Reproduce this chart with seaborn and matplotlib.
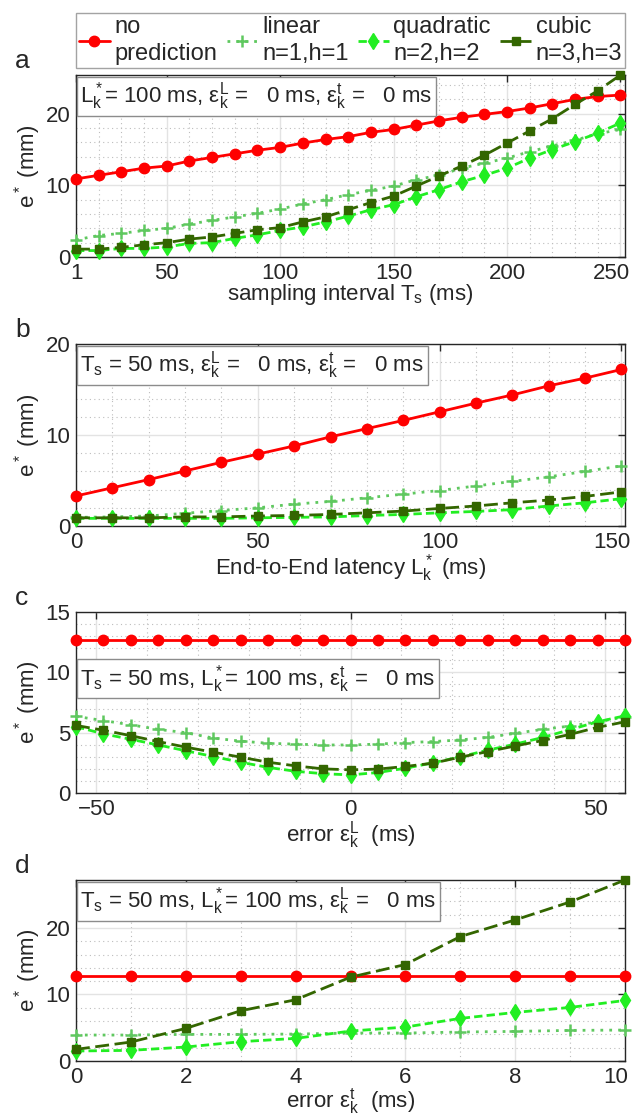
import numpy as np
import pandas as pd
import matplotlib
matplotlib.use('Agg')
import matplotlib.pyplot as plt
import matplotlib.transforms as mtrans
from matplotlib.ticker import MultipleLocator, FixedLocator
import seaborn as sns

# ---- data ----
# a: sampling interval
ts = [10, 20, 30, 40, 50, 60, 70, 80, 90, 100, 110, 120, 130,
      140, 150, 160, 170, 180, 190, 200, 210, 220, 230, 240, 250]
a_nopred = [10.9, 11.4, 11.9, 12.4, 12.7, 13.4, 13.9, 14.4, 14.9, 15.3, 15.9, 16.4, 16.8,
            17.4, 17.8, 18.4, 19.0, 19.5, 19.9, 20.3, 20.8, 21.4, 22.0, 22.4, 22.6]
a_linear = [2.4, 3.0, 3.3, 3.7, 4.0, 4.6, 5.1, 5.6, 6.1, 6.7, 7.4, 8.0, 8.7,
            9.3, 9.9, 10.8, 11.4, 12.4, 13.1, 13.8, 14.7, 15.5, 16.3, 17.2, 17.8]
a_quad = [0.9, 0.9, 1.2, 1.2, 1.4, 1.9, 2.0, 2.6, 3.1, 3.7, 4.2, 4.9, 5.7,
          6.6, 7.3, 8.4, 9.4, 10.5, 11.4, 12.4, 13.8, 15.0, 16.1, 17.3, 18.7]
a_cubic = [1.1, 1.1, 1.35, 1.7, 2.0, 2.5, 2.8, 3.3, 3.8, 4.1, 4.9, 5.6, 6.6,
           7.6, 8.5, 9.9, 11.3, 12.7, 14.2, 15.9, 17.6, 19.3, 21.3, 23.2, 25.4]

# b: end-to-end latency
lat = [0, 10, 20, 30, 40, 50, 60, 70, 80, 90, 100, 110, 120, 130, 140, 150]
b_nopred = [3.3, 4.2, 5.1, 6.05, 7.0, 7.9, 8.8, 9.8, 10.7, 11.6, 12.55, 13.5, 14.4, 15.4, 16.25, 17.2]
b_linear = [0.95, 1.0, 1.1, 1.4, 1.7, 2.0, 2.4, 2.7, 3.1, 3.5, 3.9, 4.4, 4.9, 5.4, 6.0, 6.6]
b_quad = [0.84, 0.84, 0.84, 0.84, 0.84, 0.9, 0.95, 1.0, 1.15, 1.27, 1.45, 1.6, 1.8, 2.2, 2.55, 3.0]
b_cubic = [0.9, 0.9, 0.9, 1.0, 1.0, 1.1, 1.16, 1.27, 1.45, 1.64, 1.93, 2.2, 2.55, 2.85, 3.25, 3.75]

# c: latency error
errL = [-54, -48.6, -43.2, -37.8, -32.4, -27, -21.6, -16.2, -10.8, -5.4, 0,
        5.4, 10.8, 16.2, 21.6, 27, 32.4, 37.8, 43.2, 48.6, 54]
c_nopred = [12.7] * 21
c_linear = [6.35, 6.0, 5.65, 5.27, 5.0, 4.55, 4.3, 4.12, 4.05, 3.98, 3.98,
            4.05, 4.18, 4.26, 4.4, 4.6, 4.95, 5.27, 5.55, 5.9, 6.3]
c_quad = [5.5, 4.9, 4.45, 3.98, 3.5, 3.02, 2.55, 2.12, 1.8, 1.6, 1.5,
          1.7, 2.05, 2.5, 3.0, 3.55, 4.05, 4.6, 5.25, 5.9, 6.4]
c_cubic = [5.6, 5.2, 4.75, 4.26, 3.8, 3.38, 2.97, 2.55, 2.25, 2.0, 1.92,
           1.98, 2.2, 2.47, 2.97, 3.43, 3.9, 4.35, 4.86, 5.44, 5.9]

# d: timestamp error
errt = [0, 1, 2, 3, 4, 5, 6, 7, 8, 9, 10]
d_nopred = [12.7] * 11
d_linear = [3.9, 3.9, 4.0, 4.0, 4.05, 4.2, 4.2, 4.35, 4.45, 4.6, 4.65]
d_quad = [1.5, 1.6, 2.1, 2.9, 3.4, 4.5, 5.1, 6.4, 7.3, 8.05, 9.1]
d_cubic = [1.75, 2.85, 4.9, 7.55, 9.2, 12.6, 14.5, 18.7, 21.2, 23.9, 27.2]

names = ['no\nprediction', 'linear\nn=1,h=1', 'quadratic\nn=2,h=2', 'cubic\nn=3,h=3']

sns.set_style('white')
plt.rcParams['font.family'] = ['Liberation Sans', 'DejaVu Sans']
plt.rcParams['mathtext.fontset'] = 'custom'
plt.rcParams['mathtext.rm'] = 'Liberation Sans'
plt.rcParams['mathtext.it'] = 'Liberation Sans:italic'

styles = [
    dict(color='#ff0000', marker='o', markersize=7.5, linestyle='-', lw=2.0),
    dict(color='#5fc85f', marker='+', markersize=8, linestyle=(0, (1, 2.2)), lw=2.0),
    dict(color='#22ee22', marker='d', markersize=8.5, linestyle=(0, (3, 1.5)), lw=2.0),
    dict(color='#336600', marker='s', markersize=6, linestyle=(0, (5, 2)), lw=2.0),
]

fig = plt.figure(figsize=(6.32, 11.19), dpi=100)
W, H = 632, 1119
L, R = 76, 625


def make_ax(top, bot):
    return fig.add_axes([L / W, 1 - bot / H, (R - L) / W, (bot - top) / H])


panels = [
    dict(top=75, bot=257, x=ts, ys=[a_nopred, a_linear, a_quad, a_cubic],
         xlim=(10, 252), ylim=(0, 25.4), xmaj=[10, 50, 100, 150, 200, 250],
         xlab=['1', '50', '100', '150', '200', '250'], xmin=10, ymaj=10, ymin=2,
         xlabel='sampling interval T$_{\\rm s}$ (ms)', xpad=-1,
         note='L$^*_{\\rm k}$= 100 ms, ε$^{\\rm L}_{\\rm k}$ =   0 ms, ε$^{\\rm t}_{\\rm k}$ =   0 ms',
         nypos=0.97, tag='a'),
    dict(top=344, bot=526, x=lat, ys=[b_nopred, b_linear, b_quad, b_cubic],
         xlim=(0, 151), ylim=(0, 20), xmaj=[0, 50, 100, 150], xlab=None, xmin=10,
         ymaj=10, ymin=2, xlabel='End-to-End latency L$^*_{\\rm k}$ (ms)', xpad=0,
         note='T$_{\\rm s}$ = 50 ms, ε$^{\\rm L}_{\\rm k}$ =   0 ms, ε$^{\\rm t}_{\\rm k}$ =   0 ms',
         nypos=0.97, tag='b'),
    dict(top=612, bot=793, x=errL, ys=[c_nopred, c_linear, c_quad, c_cubic],
         xlim=(-54, 54), ylim=(0, 15), xmaj=[-50, 0, 50], xlab=None, xmin=10,
         ymaj=5, ymin=1, xlabel='error ε$^{\\rm L}_{\\rm k}$  (ms)', xpad=0,
         note='T$_{\\rm s}$ = 50 ms, L$^*_{\\rm k}$= 100 ms, ε$^{\\rm t}_{\\rm k}$ =   0 ms',
         nypos=0.72, tag='c'),
    dict(top=880, bot=1061, x=errt, ys=[d_nopred, d_linear, d_quad, d_cubic],
         xlim=(0, 10), ylim=(0, 27.2), xmaj=[0, 2, 4, 6, 8, 10], xlab=None, xmin=1,
         ymaj=10, ymin=2, xlabel='error ε$^{\\rm t}_{\\rm k}$  (ms)', xpad=-1,
         note='T$_{\\rm s}$ = 50 ms, L$^*_{\\rm k}$= 100 ms, ε$^{\\rm L}_{\\rm k}$ =   0 ms',
         nypos=0.97, tag='d'),
]

shift = mtrans.ScaledTranslation(-9 / 100, 0, fig.dpi_scale_trans)
handles = []
for p in panels:
    ax = make_ax(p['top'], p['bot'])
    for i, (y, st) in enumerate(zip(p['ys'], styles)):
        df = pd.DataFrame({'x': p['x'], 'y': y})
        sns.lineplot(data=df, x='x', y='y', ax=ax, color=st['color'], marker=st['marker'],
                     markersize=st['markersize'], linestyle=st['linestyle'], linewidth=st['lw'],
                     markeredgecolor=st['color'], markeredgewidth=(1.8 if i == 1 else 1),
                     clip_on=False, zorder=3 + i)
    ax.set_xlim(*p['xlim'])
    ax.set_ylim(*p['ylim'])
    ax.xaxis.set_major_locator(FixedLocator(p['xmaj']))
    if p['xlab'] is not None:
        ax.set_xticklabels(p['xlab'])
    ax.xaxis.set_minor_locator(MultipleLocator(p['xmin']))
    ax.yaxis.set_major_locator(MultipleLocator(p['ymaj']))
    ax.yaxis.set_minor_locator(MultipleLocator(p['ymin']))
    ax.grid(which='major', color='#e3e3e3', lw=1.0, ls='-')
    ax.grid(which='minor', color='#bdbdbd', lw=0.8, ls=(0, (1, 3)))
    ax.set_axisbelow(True)
    ax.tick_params(which='major', direction='in', length=5, width=1, top=True, right=True,
                   labelsize=16, color='#262626', pad=4)
    ax.tick_params(which='minor', length=0)
    for s in ax.spines.values():
        s.set_color('#262626')
        s.set_linewidth(1.0)
    # keep the right-most tick label inside the figure, as in the original
    fig.canvas.draw()
    lab = ax.get_xticklabels()[-1]
    lab.set_transform(lab.get_transform() + shift)
    ax.set_xlabel(p['xlabel'], fontsize=16, labelpad=p['xpad'])
    ax.set_ylabel('e$^*$ (mm)', fontsize=16, labelpad=2)
    ax.text(0.008, p['nypos'], p['note'], transform=ax.transAxes, fontsize=16,
            va='top', ha='left', zorder=10,
            bbox=dict(boxstyle='square,pad=0.15', fc='white', ec='#8c8c8c', lw=1.0))
    fig.text(15 / W, 1 - (p['top'] - 14) / H, p['tag'], fontsize=19, ha='left', va='center')
    if not handles:
        handles = [plt.Line2D([], [], color=st['color'], marker=st['marker'],
                              markersize=st['markersize'], linestyle=st['linestyle'],
                              lw=st['lw'], mew=(1.8 if st['marker'] == '+' else 1))
                   for st in styles]

leg = fig.legend(handles, names, loc='lower left', ncol=4, mode='expand',
                 bbox_to_anchor=(L / W, 1 - 68 / H, (R - L) / W, 58 / H),
                 fontsize=17, frameon=True, fancybox=False, edgecolor='#8c8c8c',
                 handlelength=1.3, handletextpad=0.2, columnspacing=0.4,
                 borderpad=0.12, borderaxespad=0, labelspacing=0.2)
leg.get_frame().set_linewidth(1.0)
for t in leg.get_texts():
    t.set_linespacing(1.3)

fig.savefig('out.png', dpi=100, facecolor='white')
